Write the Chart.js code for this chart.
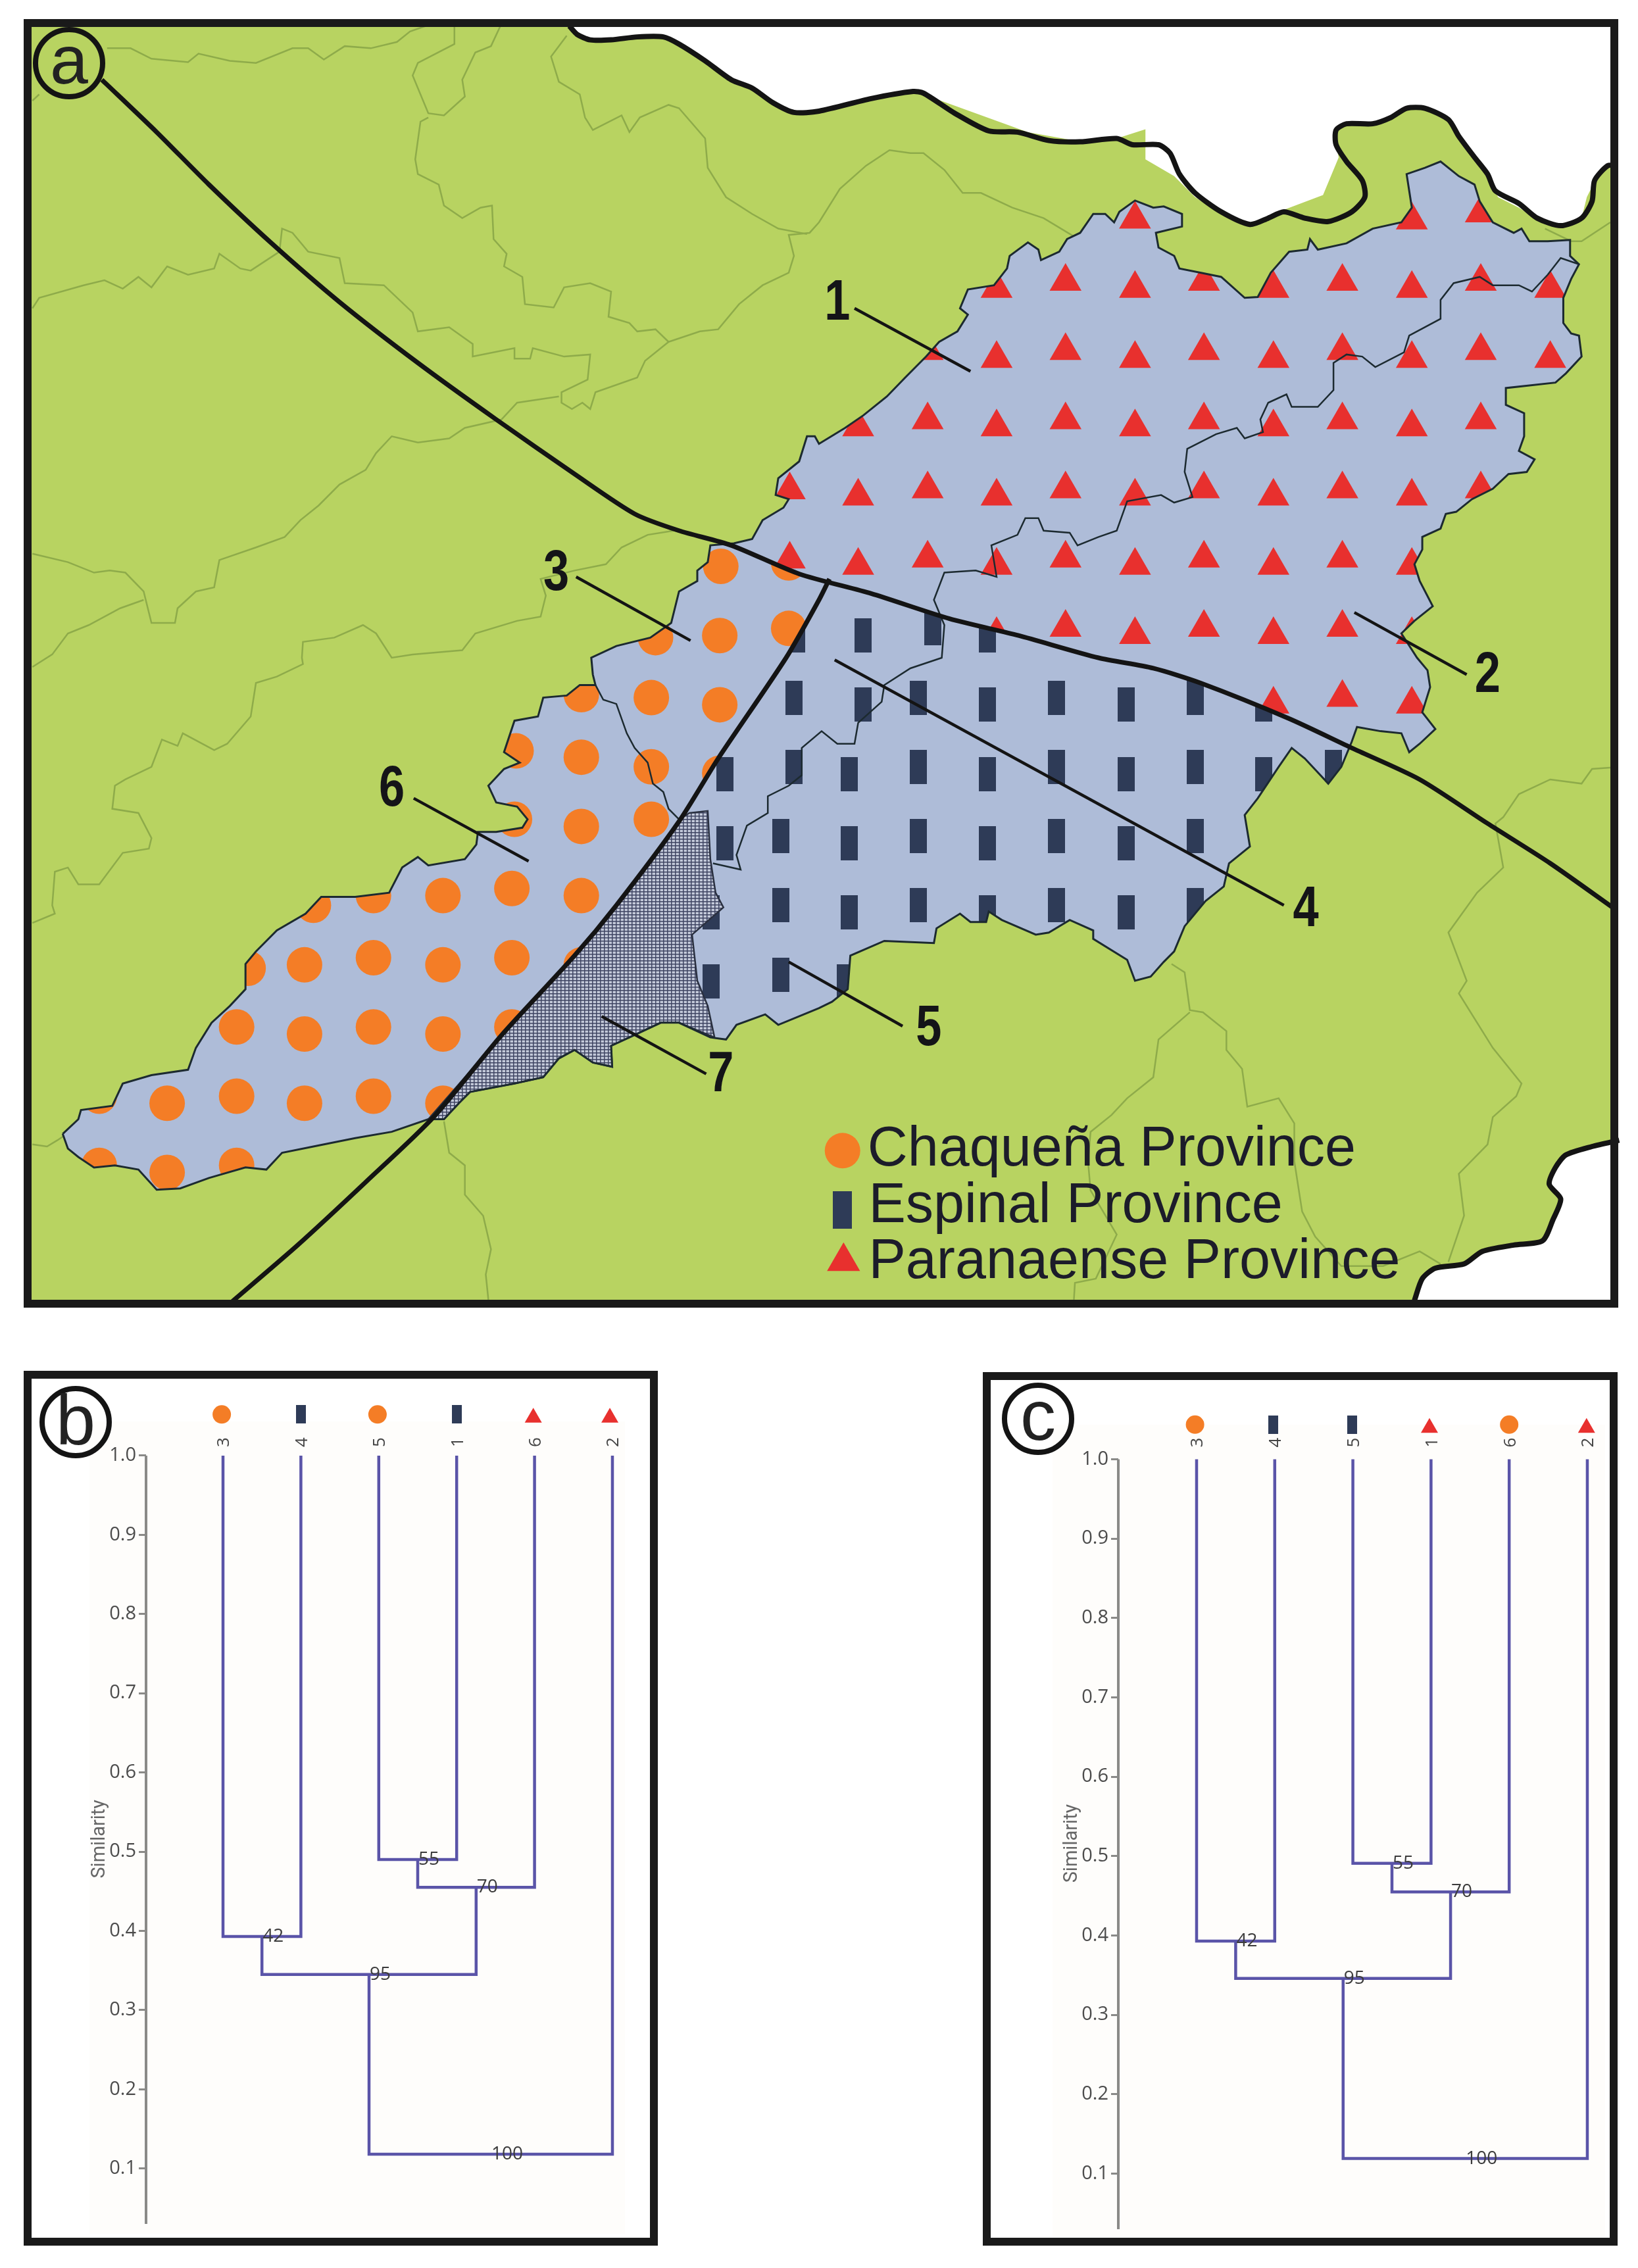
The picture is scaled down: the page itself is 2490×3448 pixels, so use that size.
<!DOCTYPE html>
<html>
<head>
<meta charset="utf-8">
<title>Provinces and similarity dendrograms</title>
<script src="https://cdn.jsdelivr.net/npm/chart.js@4/dist/chart.umd.min.js"></script>
<style>
  html, body { margin: 0; padding: 0; background: #fff; }
  #page { position: relative; width: 2490px; height: 3448px; overflow: hidden; }
  canvas { position: absolute; }
  .panel, .frame, .tag { position: absolute; box-sizing: border-box; }
  .frame { border: 12px solid #1a1a1a; }
  .tag { border: 8px solid #141414; border-radius: 50%; width: 110px; height: 110px; color: #222;
         font-family: "Liberation Sans", sans-serif; text-align: center; }
</style>
</head>
<body>
<div id="page">
  <div class="panel" style="left:48px;top:40px;width:2400px;height:1936px;background:#b8d361"></div>
  <div class="panel" style="left:136px;top:2161px;width:814px;height:1235px;background:#fefdfb"></div>
  <div class="panel" style="left:1600px;top:2166px;width:840px;height:1235px;background:#fefdfb"></div>
  <canvas id="mapChart" width="2490" height="2000" style="left:0;top:0"></canvas>
  <canvas id="dendroB" width="1000" height="1306" style="left:0;top:2100px"></canvas>
  <canvas id="dendroC" width="990" height="1314" style="left:1480px;top:2100px"></canvas>
  <div class="frame" style="left:36px;top:29px;width:2424px;height:1959px"></div>
  <div class="frame" style="left:36px;top:2084px;width:964px;height:1330px"></div>
  <div class="frame" style="left:1494px;top:2086px;width:965px;height:1328px"></div>
  <div class="tag" style="left:50px;top:41px;font-size:104px;line-height:84px">a</div>
  <div class="tag" style="left:60px;top:2107px;font-size:108px;line-height:88px">b</div>
  <div class="tag" style="left:1523px;top:2102px;font-size:108px;line-height:84px">c</div>
</div>
<script>
// map coordinates: 3136 x 3136 units over the 2490 x 2000 top canvas
const seaNorth = [[1090,62],[1105,82],[1130,95],[1170,95],[1220,88],[1270,88],[1300,105],[1350,145],[1400,190],[1440,210],[1480,245],[1520,268],[1568,265],[1668,235],[1748,218],[1768,225],[1868,270],[1968,315],[2058,335],[2138,330],[2193,308],[2193,380],[2248,420],[2288,470],[2338,510],[2393,533],[2458,500],[2533,465],[2563,375],[2558,345],[2558,310],[2578,295],[2628,295],[2663,280],[2693,258],[2728,258],[2773,285],[2793,325],[2823,375],[2848,415],[2868,470],[2908,495],[2943,522],[2988,538],[3028,520],[3038,470],[3058,420],[3083,395],[3100,395],[3100,40],[1090,40]];
const seaSouth = [[3100,2718],[3048,2733],[2998,2753],[2978,2783],[2966,2823],[2988,2858],[2973,2908],[2953,2958],[2898,2968],[2838,2983],[2803,3013],[2748,3023],[2723,3048],[2708,3100],[3100,3100]];

const coastNorth = [[1090,62],[1105,82],[1130,95],[1170,95],[1220,88],[1270,88],[1300,105],[1350,145],[1400,190],[1440,210],[1480,245],[1520,268],[1568,265],[1668,235],[1748,218],[1768,222],[1828,270],[1893,312],[1948,315],[2008,335],[2068,338],[2138,330],[2168,345],[2218,345],[2240,365],[2258,415],[2288,460],[2338,505],[2393,535],[2428,520],[2458,505],[2498,520],[2543,528],[2588,505],[2613,470],[2608,430],[2578,385],[2558,345],[2558,310],[2578,295],[2628,295],[2663,280],[2693,258],[2728,258],[2773,285],[2793,325],[2823,375],[2848,415],[2863,455],[2908,485],[2943,520],[2988,538],[3028,520],[3048,480],[3053,430],[3078,395],[3095,395]];
const coastSouth = seaSouth.slice(0, 14);

const curveA = [[195,190],[300,315],[400,440],[520,580],[650,720],[800,865],[950,1000],[1100,1130],[1215,1225],[1300,1265],[1400,1300],[1530,1368],[1668,1415],[1818,1475],[1950,1515],[2103,1568],[2208,1593],[2298,1628],[2468,1713],[2588,1783],[2718,1858],[2848,1963],[2968,2058],[3095,2170]];
const curveB = [[1588,1380],[1568,1430],[1505,1568],[1375,1808],[1300,1958],[1180,2158],[1100,2278],[960,2468],[830,2663],[700,2818],[570,2968],[445,3102]];

const greenLines = [
  [[205,115],[250,115],[290,140],[360,148],[380,128],[440,145],[490,150],[560,115],[590,115],[620,142],[660,110],[710,115],[760,100],[785,75],[815,62]],
  [[62,240],[75,225]],
  [[870,62],[870,105],[800,150],[790,180],[820,270],[850,275],[890,230],[885,190],[910,125],[940,110],[958,62]],
  [[820,280],[805,290],[795,380],[800,415],[840,440],[850,490],[885,520],[920,495],[942,490],[945,570],[970,605],[965,635],[1000,660],[1005,725],[1060,733],[1080,685],[1130,675],[1170,695],[1165,755],[1205,770],[1220,790],[1255,785],[1280,815],[1340,790],[1375,785],[1415,725],[1460,680],[1510,650],[1520,610],[1510,560],[1550,555],[1568,530],[1608,450],[1658,395],[1703,358],[1743,365],[1768,365],[1808,405],[1843,460],[1878,460],[1938,495],[1998,520],[2058,565]],
  [[1085,85],[1055,135],[1070,195],[1110,225],[1120,280],[1135,310],[1190,275],[1205,315],[1225,280],[1280,250],[1300,258],[1350,330],[1355,400],[1390,470],[1440,510],[1490,545],[1545,558]],
  [[62,735],[75,710],[160,680],[200,668],[235,688],[265,660],[290,685],[320,635],[360,655],[410,640],[420,605],[460,640],[480,645],[535,600],[540,545],[560,555],[590,600],[650,615],[660,675],[735,680],[790,745],[800,790],[860,780],[905,820],[905,850],[985,830],[985,855],[1015,855],[1020,830],[1080,850],[1130,845],[1125,905],[1075,935],[1075,960],[1095,975],[1115,960],[1130,975],[1140,935],[1220,900],[1235,860],[1280,815]],
  [[1070,945],[990,960],[960,1000],[890,1020],[860,1045],[800,1055],[750,1040],[720,1080],[700,1120],[650,1155],[610,1205],[575,1240],[545,1280],[490,1305],[420,1335],[410,1400],[375,1410],[340,1450],[335,1485],[290,1485],[275,1410],[240,1365],[210,1360],[180,1365],[130,1340],[62,1320]],
  [[275,1430],[230,1450],[170,1490],[130,1510],[100,1560],[62,1590]],
  [[1290,1265],[1240,1275],[1190,1305],[1160,1345],[1100,1360],[1035,1380],[1045,1420],[1035,1470],[990,1480],[910,1510],[885,1550],[790,1560],[750,1568],[720,1510],[695,1490],[640,1520],[580,1530],[578,1568],[580,1583],[530,1613],[490,1628],[480,1708],[435,1773],[410,1788],[350,1748],[340,1778],[310,1763],[290,1828],[240,1858],[220,1873],[215,1928],[265,1938],[290,1998],[285,2023],[235,2033],[190,2108],[150,2108],[130,2068],[105,2078],[100,2158],[105,2178],[62,2200]],
  [[62,2728],[90,2733],[110,2718],[122,2708]],
  [[850,2673],[860,2748],[890,2778],[890,2848],[925,2898],[940,2978],[930,3038],[935,3098]],
  [[2243,2298],[2268,2318],[2278,2408],[2303,2413],[2348,2458],[2348,2503],[2378,2548],[2388,2638],[2448,2618],[2478,2678],[2478,2768],[2493,2888],[2518,2948],[2568,3018],[2648,3018],[2718,2983],[2758,3013]],
  [[2278,2413],[2218,2478],[2208,2568],[2158,2618],[2128,2658],[2088,2698],[2083,2768],[2088,2838],[2138,2943],[2098,3048],[2058,3058],[2056,3098]],
  [[3083,1830],[3048,1833],[3028,1868],[2968,1858],[2908,1893],[2878,1948],[2863,1963],[2878,2068],[2828,2128],[2773,2223],[2808,2338],[2793,2368],[2858,2498],[2913,2583],[2903,2613],[2858,2663],[2848,2728],[2793,2798],[2803,2898],[2773,3008]],
  [[2958,545],[3008,575],[3028,575],[3083,530]]
];

const outerBoundary = [[120,2703],[150,2668],[155,2646],[215,2636],[235,2583],[290,2563],[360,2550],[375,2498],[405,2438],[440,2398],[470,2358],[470,2298],[490,2268],[530,2218],[585,2178],[615,2138],[680,2138],[745,2128],[770,2068],[800,2043],[820,2063],[890,2048],[912,2013],[915,1983],[950,1983],[1000,1973],[1010,1953],[990,1923],[950,1913],[935,1873],[965,1833],[995,1818],[965,1793],[985,1718],[1030,1708],[1040,1663],[1085,1658],[1110,1633],[1140,1633],[1135,1608],[1132,1568],[1180,1540],[1245,1520],[1285,1485],[1300,1410],[1335,1385],[1335,1360],[1355,1340],[1360,1300],[1405,1295],[1440,1285],[1460,1240],[1500,1210],[1510,1190],[1485,1180],[1490,1140],[1530,1100],[1545,1040],[1560,1040],[1568,1058],[1618,1020],[1653,990],[1698,945],[1733,900],[1773,850],[1798,815],[1833,790],[1853,750],[1838,735],[1853,690],[1903,680],[1928,640],[1933,610],[1968,578],[1988,595],[1993,620],[2028,600],[2043,570],[2068,555],[2093,510],[2116,510],[2133,530],[2143,505],[2173,478],[2208,495],[2228,492],[2263,510],[2263,540],[2213,555],[2218,590],[2248,610],[2258,640],[2298,650],[2338,660],[2383,710],[2408,708],[2433,650],[2468,600],[2503,595],[2508,570],[2523,595],[2578,580],[2628,545],[2683,530],[2703,495],[2693,415],[2728,400],[2758,385],[2793,420],[2823,440],[2833,480],[2858,530],[2898,555],[2913,545],[2928,575],[2963,575],[3006,572],[3006,610],[3023,630],[3008,665],[2993,710],[2993,770],[3008,795],[3023,800],[3028,850],[2998,890],[2978,912],[2883,925],[2883,965],[2918,985],[2918,1040],[2908,1075],[2938,1095],[2923,1125],[2888,1130],[2858,1165],[2818,1190],[2788,1220],[2768,1225],[2758,1260],[2723,1280],[2723,1310],[2708,1345],[2718,1385],[2743,1445],[2708,1480],[2683,1510],[2713,1568],[2733,1598],[2738,1638],[2723,1698],[2748,1738],[2718,1773],[2698,1793],[2683,1748],[2643,1743],[2598,1733],[2588,1768],[2568,1828],[2543,1868],[2528,1848],[2498,1808],[2473,1783],[2448,1828],[2408,1903],[2383,1943],[2393,2018],[2353,2058],[2343,2113],[2308,2148],[2268,2208],[2248,2268],[2228,2293],[2203,2328],[2173,2338],[2158,2288],[2093,2238],[2093,2218],[2048,2193],[2008,2223],[1983,2228],[1918,2193],[1893,2173],[1888,2198],[1858,2198],[1838,2178],[1793,2213],[1788,2248],[1693,2243],[1628,2278],[1623,2358],[1593,2388],[1568,2403],[1490,2443],[1465,2418],[1410,2443],[1390,2478],[1360,2473],[1300,2438],[1265,2438],[1205,2473],[1170,2493],[1172,2543],[1135,2533],[1100,2503],[1070,2523],[1040,2568],[985,2583],[900,2603],[880,2628],[850,2668],[820,2668],[750,2698],[680,2713],[600,2733],[540,2748],[510,2788],[470,2783],[400,2808],[345,2833],[300,2836],[265,2788],[220,2778],[180,2783],[150,2758],[130,2738],[120,2703]];

const border12 = [[3023,630],[2988,615],[2963,655],[2933,695],[2908,680],[2858,680],[2833,660],[2783,675],[2758,715],[2758,760],[2698,800],[2688,840],[2633,875],[2608,850],[2578,845],[2553,865],[2553,930],[2523,970],[2473,970],[2463,940],[2428,960],[2413,1000],[2418,1030],[2383,1045],[2368,1020],[2328,1035],[2273,1070],[2268,1125],[2283,1185],[2248,1198],[2223,1180],[2158,1195],[2138,1265],[2103,1280],[2063,1300],[2048,1270],[1998,1265],[1988,1235],[1963,1235],[1948,1275],[1898,1300],[1908,1375],[1868,1360],[1808,1365],[1788,1430],[1808,1490],[1803,1568],[1743,1593],[1693,1633],[1688,1673],[1643,1723],[1636,1773],[1603,1773],[1573,1743],[1535,1783],[1535,1848],[1510,1873],[1470,1898],[1470,1938],[1430,1968],[1410,2038],[1418,2073],[1365,2058]];
const border36 = [[1140,1633],[1155,1668],[1180,1678],[1200,1748],[1215,1783],[1240,1818],[1250,1868],[1270,1888],[1280,1928],[1300,1953]];
const region7 = [[1300,1953],[1320,1938],[1355,1933],[1360,2048],[1370,2128],[1385,2163],[1325,2228],[1335,2338],[1355,2398],[1368,2473],[1300,2438],[1265,2438],[1205,2473],[1170,2493],[1172,2543],[1135,2533],[1100,2503],[1070,2523],[1040,2568],[985,2583],[900,2603],[880,2628],[850,2668],[820,2668],[960,2468],[1100,2278],[1180,2158]];

const chaquenaSites = [[1247,1663],[1378,1680],[1380,1350],[1510,1342],[1378,1515],[1510,1498],[1255,1520],[1113,1656],[988,1790],[1113,1805],[1247,1828],[1378,1843],[985,1953],[1113,1970],[1247,1953],[848,2135],[980,2118],[1113,2135],[715,2135],[600,2158],[583,2300],[715,2283],[848,2300],[980,2283],[1113,2300],[475,2308],[453,2448],[583,2465],[715,2448],[848,2465],[980,2448],[320,2630],[453,2613],[583,2630],[715,2613],[848,2630],[190,2613],[190,2778],[320,2795],[453,2778]];
const espinalSites = [[1653,1515],[1786,1498],[1891,1515],[1525,1515],[1520,1663],[1653,1680],[1758,1663],[1891,1680],[2023,1663],[2156,1680],[2288,1663],[2420,1680],[1388,1845],[1520,1828],[1626,1845],[1758,1828],[1891,1845],[2023,1828],[2156,1845],[2288,1828],[2420,1845],[2553,1828],[1388,2010],[1495,1993],[1626,2010],[1758,1993],[1891,2010],[2023,1993],[2156,2010],[2288,1993],[1362,2175],[1495,2158],[1626,2175],[1758,2158],[1891,2175],[2023,2158],[2156,2175],[2288,2158],[1362,2340],[1495,2323],[1618,2340]];
const paranaenseSites = [[2173,523],[2703,525],[2835,508],[1908,688],[2040,671],[2173,688],[2305,671],[2438,688],[2570,671],[2703,688],[2835,671],[2968,688],[1776,836],[1908,855],[2040,836],[2173,855],[2305,836],[2438,855],[2570,836],[2703,855],[2835,836],[2968,855],[1643,1018],[1776,1001],[1908,1018],[2040,1001],[2173,1018],[2305,1001],[2438,1018],[2570,1001],[2703,1018],[2835,1001],[1512,1168],[1643,1183],[1776,1166],[1908,1183],[2040,1166],[2173,1183],[2305,1166],[2438,1183],[2570,1166],[2703,1183],[2835,1166],[1512,1333],[1643,1348],[1776,1331],[1908,1348],[2040,1331],[2173,1348],[2305,1331],[2438,1348],[2570,1331],[2703,1348],[1908,1513],[2040,1496],[2173,1513],[2305,1496],[2438,1513],[2570,1496],[2703,1513],[2438,1679],[2570,1663],[2703,1679]];

const leaderLines = [[[1636,735],[1858,885]],[[2593,1460],[2808,1608]],[[1103,1375],[1322,1527]],[[1598,1573],[2458,2158]],[[1510,2293],[1728,2446]],[[792,1903],[1012,2053]],[[1152,2423],[1352,2560]]];
const regionNames = ['1','2','3','4','5','6','7'];
const regionNameX = [1603,2848,1065,2500,1778,750,1380];
const regionNameY = [724,1612,1369,2170,2454,1882,2564];

const legendNames = ['Chaqueña Province','Espinal Province','Paranaense Province'];
const legendTextX = [1661,1663,1663];
const legendTextY = [2778,2914,3046];
const legendMarkX = [1613,1613,1615];
const legendMarkY = [2743,2884,3007];

const leafLabels = ['3','4','5','1','6','2'];
const leafTicks = [1,2,3,4,5,6];
const similarityTicks = [1.0,0.9,0.8,0.7,0.6,0.5,0.4,0.3,0.2,0.1];
const mergeLeft = [1,3,3.5,1.5,2.875];
const mergeRight = [2,4,5,4.25,6];
const mergeSupport = ['42','55','70','95','100'];
const heightsB = [0.393,0.490,0.455,0.345,0.118];
const heightsC = [0.393,0.491,0.455,0.346,0.119];
const leftTopB = [1,1,0.490,0.393,0.345];
const rightTopB = [1,1,1,0.455,1];
const leftTopC = [1,1,0.491,0.393,0.346];
const rightTopC = [1,1,1,0.455,1];
const markerShapesB = ['circle','bar','circle','bar','triangle','triangle'];
const markerShapesC = ['circle','bar','bar','triangle','circle','triangle'];
const markerXB = [0.984,2,2.984,4,4.984,5.967];
const markerXC = [0.98,1.98,2.99,3.98,5,5.99];

const ORANGE = '#f47d26', NAVY = '#2e3b57', RED = '#e8302e', LINE = '#5a54a8';

const pts = a => a.map(([x, y]) => ({x, y}));

function barSprite(w, h) {
  const c = document.createElement('canvas');
  c.width = w; c.height = h;
  const g = c.getContext('2d');
  g.fillStyle = NAVY;
  g.fillRect(0, 0, w, h);
  return c;
}

function gridPattern() {
  const c = document.createElement('canvas');
  c.width = 6; c.height = 5;
  const g = c.getContext('2d');
  g.fillStyle = '#c3c9d9';
  g.fillRect(0, 0, 6, 5);
  g.fillStyle = '#3f4563';
  g.fillRect(0, 0, 1.5, 5);
  g.fillRect(0, 0, 6, 1.5);
  return document.createElement('canvas').getContext('2d').createPattern(c, 'repeat');
}

function path(chart, poly) {
  const p = new Path2D();
  poly.forEach(([x, y], i) => {
    const px = chart.scales.x.getPixelForValue(x), py = chart.scales.y.getPixelForValue(y);
    i ? p.lineTo(px, py) : p.moveTo(px, py);
  });
  p.closePath();
  return p;
}

// keeps the site symbols inside their province
const siteClip = {
  id: 'siteClip',
  beforeDatasetDraw(chart, args) {
    const polys = chart.data.datasets[args.index].clipTo;
    if (!polys) return;
    chart.ctx.save();
    polys.forEach(poly => chart.ctx.clip(path(chart, poly)));
  },
  afterDatasetDraw(chart, args) {
    if (chart.data.datasets[args.index].clipTo) chart.ctx.restore();
  }
};

const mapText = {
  id: 'mapText',
  afterDatasetsDraw(chart) {
    const {ctx, scales: {x, y}} = chart;
    ctx.save();
    ctx.fillStyle = '#141418';
    ctx.textAlign = 'center';
    ctx.textBaseline = 'middle';
    ctx.font = 'bold 88px "Liberation Sans"';
    // the region numbers are condensed in the reference
    regionNames.forEach((t, i) => {
      ctx.save();
      ctx.translate(x.getPixelForValue(regionNameX[i]), y.getPixelForValue(regionNameY[i]));
      ctx.scale(0.8, 1);
      ctx.fillText(t, 0, 0);
      ctx.restore();
    });
    ctx.textAlign = 'left';
    ctx.textBaseline = 'alphabetic';
    ctx.fillStyle = '#1c1c2a';
    ctx.font = '84.5px "Liberation Sans"';
    legendNames.forEach((t, i) => ctx.fillText(t, x.getPixelForValue(legendTextX[i]), y.getPixelForValue(legendTextY[i])));
    ctx.restore();
  }
};

const polyline = (data, color, width, extra) => Object.assign({
  type: 'scatter', data: pts(data), showLine: true, pointRadius: 0, borderColor: color, borderWidth: width,
  backgroundColor: color, fill: false
}, extra);

const sites = (data, style, radius, color, clipTo) => ({
  type: 'scatter', data: pts(data), showLine: false, pointStyle: style, pointRadius: radius,
  backgroundColor: color, borderColor: color, pointBorderWidth: 0, clipTo
});

const aboveA = curveA.concat([[3136,2240],[3136,0],[195,0]]);
const belowA = curveA.concat([[3136,3136],[0,3136],[0,190]]);
const westOfB = curveB.concat([[0,3136],[0,0],[1588,0]]);
const eastOfB = curveB.concat([[445,3136],[3136,3136],[3136,0],[1588,0]]);

// painter's order, reversed below because Chart.js draws the last dataset first
const mapLayers = [
  polyline(seaNorth, '#ffffff', 0, {fill: 'shape'}),
  polyline(seaSouth, '#ffffff', 0, {fill: 'shape'}),
  ...greenLines.map(l => polyline(l, '#8eab4a', 2.5)),
  polyline(coastNorth, '#141414', 8, {tension: 0.25}),
  polyline(coastSouth, '#141414', 8, {tension: 0.25}),
  polyline(outerBoundary, '#aebcd8', 0, {fill: 'shape'}),
  sites(chaquenaSites, 'circle', 27, ORANGE, [outerBoundary, belowA, westOfB]),
  sites(espinalSites, barSprite(26, 52), 26, NAVY, [outerBoundary, belowA, eastOfB]),
  sites(paranaenseSites, 'triangle', 28, RED, [outerBoundary, aboveA]),
  polyline(region7, '#2a3040', 2.5, {fill: 'shape', backgroundColor: gridPattern()}),
  polyline(border36, '#1c2a30', 2.5),
  polyline(border12, '#1c2a30', 2.5),
  polyline(outerBoundary, '#1c2a30', 3),
  polyline(curveA, '#141414', 7, {tension: 0.25}),
  polyline(curveB, '#141414', 7, {tension: 0.25}),
  ...leaderLines.map(l => polyline(l, '#141414', 4.5)),
  sites([[legendMarkX[0], legendMarkY[0]]], 'circle', 27, ORANGE),
  sites([[legendMarkX[1], legendMarkY[1]]], barSprite(29, 57), 28, NAVY),
  sites([[legendMarkX[2], legendMarkY[2]]], 'triangle', 29, RED)
];

Chart.defaults.font.family = '"Open Sans", sans-serif';
Chart.defaults.animation = false;

new Chart(document.getElementById('mapChart'), {
  type: 'scatter',
  data: {datasets: mapLayers.reverse()},
  plugins: [siteClip, mapText],
  options: {
    responsive: false, devicePixelRatio: 1, events: [],
    layout: {padding: 0, autoPadding: false},
    plugins: {legend: {display: false}, tooltip: {enabled: false}},
    scales: {
      x: {display: false, min: 0, max: 3136},
      y: {display: false, min: 0, max: 3136, reverse: true}
    }
  }
});

function drawDendrogram(id, cfg) {
  const {heights, leftTop, rightTop, shapes, markerX, markerY, labelY, xMin, xMax, padding, axisWidth} = cfg;
  const sprite = barSprite(15, 28);
  const tree = heights.map((h, i) => polyline(
    [[mergeLeft[i], leftTop[i]], [mergeLeft[i], h], [mergeRight[i], h], [mergeRight[i], rightTop[i]]],
    LINE, 4.5, {clip: false}));
  const axisLine = polyline([[xMin, 1], [xMin, 0.03]], '#8a8a88', 4, {clip: false});
  const markers = {
    type: 'scatter', showLine: false, clip: false,
    data: markerX.map((x, i) => ({x, y: shapes[i] === 'triangle' ? markerY - 0.004 : markerY})),
    pointStyle: shapes.map(s => s === 'bar' ? sprite : s),
    pointRadius: shapes.map(s => s === 'triangle' ? 15 : 14),
    pointBorderWidth: 0,
    backgroundColor: shapes.map(s => s === 'circle' ? ORANGE : s === 'bar' ? NAVY : RED)
  };
  const labels = {
    id: 'treeLabels',
    afterDatasetsDraw(chart) {
      const {ctx, scales: {x, y}} = chart;
      ctx.save();
      ctx.fillStyle = '#444';
      ctx.font = '26px "Open Sans"';
      ctx.textAlign = 'center';
      ctx.textBaseline = 'middle';
      leafTicks.forEach((v, i) => {
        ctx.save();
        ctx.translate(x.getPixelForValue(v) + 2, y.getPixelForValue(labelY));
        ctx.rotate(-Math.PI / 2);
        ctx.fillText(leafLabels[i], 0, 0);
        ctx.restore();
      });
      // axis title sits at 0.516 in the reference, not mid-scale
      ctx.save();
      ctx.fillStyle = '#666';
      ctx.font = '29px Roboto';
      ctx.translate(x.getPixelForValue(xMin) - 70, y.getPixelForValue(0.516));
      ctx.rotate(-Math.PI / 2);
      ctx.fillText('Similarity', 0, 0);
      ctx.restore();
      ctx.font = '28px "Open Sans"';
      ctx.textAlign = 'left';
      ctx.fillStyle = '#3c3c3c';
      mergeSupport.forEach((t, i) => {
        ctx.fillText(t, x.getPixelForValue((mergeLeft[i] + mergeRight[i]) / 2) + 1, y.getPixelForValue(heights[i]));
      });
      ctx.restore();
    }
  };
  new Chart(document.getElementById(id), {
    type: 'scatter',
    data: {datasets: [markers, ...tree, axisLine]},
    plugins: [labels],
    options: {
      responsive: false, devicePixelRatio: 1, events: [],
      layout: {padding, autoPadding: false},
      plugins: {legend: {display: false}, tooltip: {enabled: false}},
      scales: {
        x: {display: false, min: xMin, max: xMax},
        y: {
          min: 0.03, max: 1.07,
          afterBuildTicks: s => { s.ticks = similarityTicks.map(value => ({value})); },
          afterFit: s => { s.width = axisWidth; },
          border: {display: false},
          grid: {drawOnChartArea: false, drawTicks: true, tickLength: 11, color: '#8a8a88', lineWidth: 3},
          ticks: {color: '#4c4c4c', padding: 4, font: {size: 29}, callback: v => v.toFixed(1)}
        }
      }
    }
  });
}

drawDendrogram('dendroB', {
  heights: heightsB, leftTop: leftTopB, rightTop: rightTopB, shapes: markerShapesB, markerX: markerXB,
  markerY: 1.052, labelY: 1.017, xMin: 0.0118, xMax: 6.3, axisWidth: 89,
  padding: {left: 133, right: 33.5, top: 28.7, bottom: 25}
});
drawDendrogram('dendroC', {
  heights: heightsC, leftTop: leftTopC, rightTop: rightTopC, shapes: markerShapesC, markerX: markerXC,
  markerY: 1.0436, labelY: 1.021, xMin: -0.0017, xMax: 6.3, axisWidth: 90,
  padding: {left: 130, right: 21.4, top: 34, bottom: 25}
});
</script>
</body>
</html>
